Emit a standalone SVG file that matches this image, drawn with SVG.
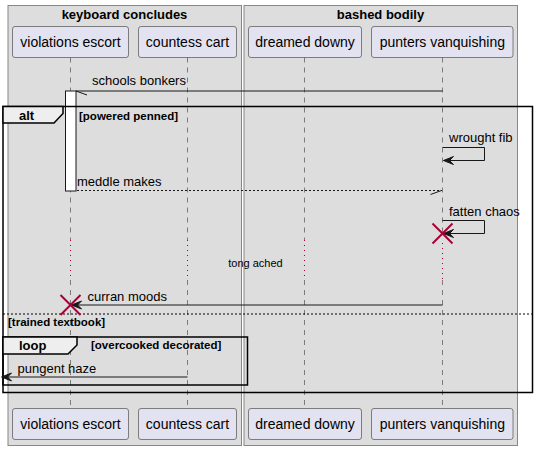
<svg xmlns="http://www.w3.org/2000/svg" width="538" height="450" viewBox="0 0 538 450">
<defs>
<style>
text{font-family:"Liberation Sans",Arial,sans-serif;fill:#000}
.gt{font-size:13px;font-weight:bold}
.pt{font-size:14px}
.mt{font-size:13px}
.ct{font-size:11.5px;font-weight:bold}
.dt{font-size:11px}
.grp{fill:#DDDDDD;stroke:#888888;stroke-width:1}
.part{fill:#E2E2F0;stroke:#181818;stroke-width:0.5}
.life{stroke:#181818;stroke-width:0.5;stroke-dasharray:5 5;fill:none}
.dot{stroke:#A80036;stroke-width:1;stroke-dasharray:1 4;fill:none}
.msg{stroke:#181818;stroke-width:1;fill:none}
.ret{stroke:#181818;stroke-width:1;stroke-dasharray:2 2;fill:none}
.frame{stroke:#000;stroke-width:1.5;fill:none}
.tab{stroke:#000;stroke-width:1.5;fill:#EEEEEE}
.x{stroke:#A80036;stroke-width:2}
.head{fill:#181818;stroke:#181818;stroke-width:1}
</style>
</defs>
<rect width="538" height="450" fill="#FFFFFF"/>
<g id="box-keyboard-concludes">
<rect class="grp" x="8" y="5.5" width="233.5" height="440"/>
<text class="gt" x="124.5" y="19" text-anchor="middle">keyboard concludes</text>
</g>
<g id="box-bashed-bodily">
<rect class="grp" x="244" y="5.5" width="273.5" height="440"/>
<text class="gt" x="380.5" y="19" text-anchor="middle">bashed bodily</text>
</g>
<g id="lifelines">
<path class="life" d="M70.5,57.5V240M70.5,280V408.5"/>
<path class="dot" d="M70.5,240V280"/>
<path class="life" d="M187.5,57.5V240M187.5,280V408.5"/>
<path class="dot" d="M187.5,240V280"/>
<path class="life" d="M304.5,57.5V240M304.5,280V408.5"/>
<path class="dot" d="M304.5,240V280"/>
<path class="life" d="M442.5,57.5V233M442.5,280V408.5"/>
<path class="dot" d="M442.5,243V280"/>
</g>
<g id="violations-escort">
<rect class="part" x="12.5" y="26.5" width="116" height="31" rx="2.5"/>
<text class="pt" x="70.5" y="47" text-anchor="middle">violations escort</text>
<rect class="part" x="12.5" y="408.5" width="116" height="31" rx="2.5"/>
<text class="pt" x="70.5" y="429" text-anchor="middle">violations escort</text>
<rect x="65.5" y="91" width="10.5" height="100" fill="#FFFFFF" stroke="#181818" stroke-width="1"/>
</g>
<g id="countess-cart">
<rect class="part" x="138.5" y="26.5" width="98" height="31" rx="2.5"/>
<text class="pt" x="187.5" y="47" text-anchor="middle">countess cart</text>
<rect class="part" x="138.5" y="408.5" width="98" height="31" rx="2.5"/>
<text class="pt" x="187.5" y="429" text-anchor="middle">countess cart</text>
</g>
<g id="dreamed-downy">
<rect class="part" x="248.5" y="26.5" width="113" height="31" rx="2.5"/>
<text class="pt" x="305" y="47" text-anchor="middle">dreamed downy</text>
<rect class="part" x="248.5" y="408.5" width="113" height="31" rx="2.5"/>
<text class="pt" x="305" y="429" text-anchor="middle">dreamed downy</text>
</g>
<g id="punters-vanquishing">
<rect class="part" x="371.5" y="26.5" width="141.5" height="31" rx="2.5"/>
<text class="pt" x="442.3" y="47" text-anchor="middle">punters vanquishing</text>
<rect class="part" x="371.5" y="408.5" width="141.5" height="31" rx="2.5"/>
<text class="pt" x="442.3" y="429" text-anchor="middle">punters vanquishing</text>
</g>
<g id="frames">
<rect class="frame" x="3" y="106.5" width="529.5" height="286"/>
<polygon class="tab" points="3,106.5 63,106.5 63,113.5 54,123 3,123"/>
<text class="gt" x="19" y="120">alt</text>
<text class="ct" x="79" y="120">[powered penned]</text>
<line x1="3" y1="314" x2="532.5" y2="314" stroke="#000" stroke-width="1" stroke-dasharray="2 2"/>
<text class="ct" x="8" y="326">[trained textbook]</text>
<rect class="frame" x="3" y="337" width="244.5" height="48"/>
<polygon class="tab" points="3,337 77,337 77,345 68,354 3,354"/>
<text class="gt" x="19" y="350">loop</text>
<text class="ct" x="91" y="349">[overcooked decorated]</text>
</g>
<g id="connectors">
<line class="msg" x1="442.5" y1="91" x2="76" y2="91"/>
<line class="msg" x1="76" y1="91" x2="87" y2="95"/>
<text class="mt" x="92" y="85">schools bonkers</text>
<polyline class="msg" points="442.5,147.5 484.5,147.5 484.5,160.5 443.5,160.5"/>
<polygon class="head" points="443.5,160.5 453.5,156.5 449.5,160.5 453.5,164.5"/>
<text class="mt" x="449" y="142">wrought fib</text>
<line class="ret" x1="77" y1="190.5" x2="442" y2="190.5"/>
<line class="msg" x1="441.5" y1="190.5" x2="430.5" y2="194.5"/>
<text class="mt" x="77" y="186">meddle makes</text>
<polyline class="msg" points="442.5,220.5 484.5,220.5 484.5,233.5 443.5,233.5"/>
<polygon class="head" points="443.5,233.5 453.5,229.5 449.5,233.5 453.5,237.5"/>
<text class="mt" x="449" y="216">fatten chaos</text>
<line class="x" x1="432.5" y1="223.5" x2="452.5" y2="243.5"/>
<line class="x" x1="452.5" y1="223.5" x2="432.5" y2="243.5"/>
<text class="dt" x="255.5" y="267" text-anchor="middle">tong ached</text>
<line class="msg" x1="442.5" y1="305" x2="72" y2="305"/>
<polygon class="head" points="71.5,305 81.5,301 77.5,305 81.5,309"/>
<text class="mt" x="87.5" y="300.5">curran moods</text>
<line class="x" x1="60.5" y1="295" x2="80.5" y2="315"/>
<line class="x" x1="80.5" y1="295" x2="60.5" y2="315"/>
<line class="msg" x1="187.5" y1="377" x2="2" y2="377"/>
<polygon class="head" points="1.5,377 11.5,373 7.5,377 11.5,381"/>
<text class="mt" x="17.5" y="373">pungent haze</text>
</g>
</svg>
